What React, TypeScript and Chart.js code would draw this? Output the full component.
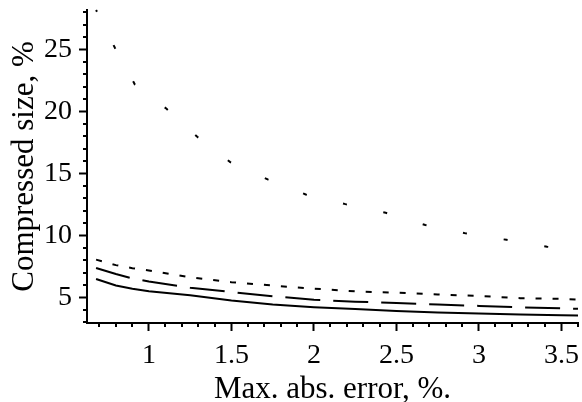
import React, { useEffect, useRef } from "react";
import { Chart, registerables } from "chart.js";

Chart.register(...registerables);

// Max. absolute error (%) at which each curve was sampled
const errorPct = [0.68, 0.8, 0.9, 1.0, 1.25, 1.5, 1.75, 2.0, 2.25, 2.5, 2.75, 3.0, 3.25, 3.5, 3.6];
// Compressed size (%) for the three lower curves
const solidSize = [6.5, 5.97, 5.72, 5.52, 5.18, 4.76, 4.45, 4.23, 4.07, 3.92, 3.8, 3.72, 3.64, 3.57, 3.55];
const longDashSize = [7.39, 6.9, 6.55, 6.3, 5.8, 5.45, 5.11, 4.82, 4.67, 4.56, 4.44, 4.33, 4.21, 4.13, 4.1];
const shortDashSize = [8.06, 7.62, 7.37, 7.19, 6.63, 6.24, 5.97, 5.72, 5.5, 5.4, 5.25, 5.13, 4.95, 4.9, 4.84];
// Upper (sparsely dotted) curve
const sparseErrorPct = [0.68, 0.794, 0.915, 1.107, 1.293, 1.493, 1.72, 1.95, 2.191, 2.435, 2.675, 2.919, 3.167, 3.413, 3.6];
const sparseSize = [28.2, 25.15, 22.19, 20.23, 17.97, 15.93, 14.53, 13.32, 12.54, 11.84, 10.85, 10.18, 9.66, 9.1, 8.85];

// Axis ticks
const xTicks = [1, 1.5, 2, 2.5, 3, 3.5];
const yTicks = [5, 10, 15, 20, 25];
const xRange = [0.625, 3.6];
const yRange = [2.95, 28.2];
const xMinorStep = 0.1;
const yMinorStep = 1;

const serif = "'Liberation Serif', 'Times New Roman', serif";

const toPoints = (xs: number[], ys: number[]) => xs.map((x, i) => ({ x, y: ys[i] }));

// Short outward tick marks between the labelled ones
const minorTicks = {
  id: "minorTicks",
  afterDraw(chart: any) {
    const { ctx, chartArea, scales } = chart;
    const xs = scales.x;
    const ys = scales.y;
    ctx.save();
    ctx.strokeStyle = "#000";
    ctx.lineWidth = 2;
    ctx.beginPath();
    const n = Math.round((xRange[1] - xRange[0]) / xMinorStep) + 2;
    for (let i = 0; i < n; i++) {
      const v = Math.round((Math.ceil(xRange[0] / xMinorStep) + i) * xMinorStep * 1000) / 1000;
      if (v > xRange[1] + 1e-9) break;
      if (xTicks.some((t) => Math.abs(t - v) < 1e-6)) continue;
      const px = Math.round(xs.getPixelForValue(v));
      ctx.moveTo(px, chartArea.bottom);
      ctx.lineTo(px, chartArea.bottom + 4);
    }
    for (let v = Math.ceil(yRange[0] / yMinorStep) * yMinorStep; v <= yRange[1]; v += yMinorStep) {
      if (yTicks.includes(v)) continue;
      const py = Math.round(ys.getPixelForValue(v));
      ctx.moveTo(chartArea.left - 4, py);
      ctx.lineTo(chartArea.left, py);
    }
    ctx.stroke();
    ctx.restore();
  },
};

export default function App() {
  const canvasRef = useRef<HTMLCanvasElement | null>(null);

  useEffect(() => {
    const canvas = canvasRef.current;
    if (!canvas) return;
    const line = (data: { x: number; y: number }[], dash: number[], offset = 0) => ({
      data,
      borderColor: "#000",
      borderWidth: 2,
      borderDash: dash,
      borderDashOffset: offset,
      pointRadius: 0,
      tension: 0,
      fill: false,
      borderCapStyle: "butt" as const,
    });
    const chart = new Chart(canvas, {
      type: "line",
      data: {
        datasets: [
          { ...line(toPoints(sparseErrorPct, sparseSize), [4, 37.2], 2), clip: false },
          line(toPoints(errorPct, shortDashSize), [6, 11]),
          line(toPoints(errorPct, longDashSize), [35, 13]),
          line(toPoints(errorPct, solidSize), []),
        ],
      },
      options: {
        animation: false,
        responsive: true,
        maintainAspectRatio: false,
        layout: { padding: { top: 10, right: 4, left: 0, bottom: 0 } },
        plugins: { legend: { display: false }, tooltip: { enabled: false } },
        scales: {
          x: {
            type: "linear",
            min: xRange[0],
            max: xRange[1],
            afterBuildTicks: (s: any) => {
              s.ticks = xTicks.map((v) => ({ value: v }));
            },
            afterFit: (s: any) => {
              s.height = 79;
              s.paddingLeft = 0;
              s.paddingRight = 0;
            },
            grid: { drawOnChartArea: false, drawTicks: true, tickLength: 8, tickWidth: 2, tickColor: "#000" },
            border: { display: true, color: "#000", width: 2 },
            ticks: {
              color: "#000",
              padding: 8,
              maxRotation: 0,
              font: { family: serif, size: 28 },
              callback: (v: any) => String(v),
            },
            title: {
              display: true,
              text: "Max. abs. error, %.",
              color: "#000",
              font: { family: serif, size: 31, lineHeight: 1 },
              padding: { top: 0, bottom: -3 },
            },
          },
          y: {
            type: "linear",
            min: yRange[0],
            max: yRange[1],
            afterBuildTicks: (s: any) => {
              s.ticks = yTicks.map((v) => ({ value: v }));
            },
            afterFit: (s: any) => {
              s.width = 87;
              s.paddingTop = 0;
              s.paddingBottom = 0;
            },
            grid: { drawOnChartArea: false, drawTicks: true, tickLength: 8, tickWidth: 2, tickColor: "#000" },
            border: { display: true, color: "#000", width: 2 },
            ticks: {
              color: "#000",
              padding: 7,
              font: { family: serif, size: 28 },
              callback: (v: any) => String(v),
            },
            title: {
              display: true,
              text: "Compressed size, %",
              color: "#000",
              font: { family: serif, size: 31, lineHeight: 1 },
              padding: { top: 9, bottom: 0 },
            },
          },
        },
      },
      plugins: [minorTicks],
    });
    return () => chart.destroy();
  }, []);

  return (
    <div style={{ position: "fixed", left: 0, top: 0, width: 582, height: 402, background: "#fff" }}>
      <canvas ref={canvasRef} />
    </div>
  );
}
